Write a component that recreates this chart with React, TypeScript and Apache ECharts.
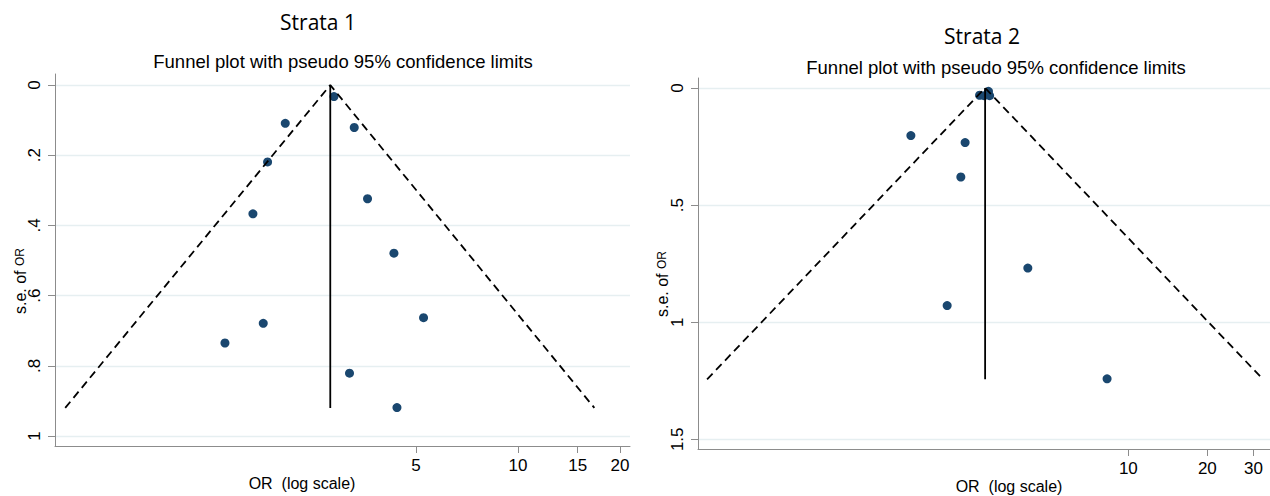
import React, { useEffect, useRef } from "react";
import * as echarts from "echarts";

// Strata 1 study estimates
const strata1OR = [2.866, 2.059, 3.289, 1.826, 3.6, 1.653, 4.307, 5.266, 1.773, 1.367, 3.185, 4.396];
const strata1SE = [0.033, 0.109, 0.121, 0.219, 0.324, 0.367, 0.479, 0.663, 0.679, 0.735, 0.821, 0.919];
// Strata 2 study estimates
const strata2OR = [2.71, 2.82, 2.93, 2.96, 1.483, 2.387, 2.299, 4.139, 2.039, 8.297];
const strata2SE = [0.031, 0.033, 0.014, 0.033, 0.203, 0.233, 0.38, 0.769, 0.929, 1.242];

// pseudo 95% confidence limits: [lower end, apex, upper end]
const funnel1OR = [0.462, 2.795, 16.8];
const funnel1SE = [0.92, 0, 0.92];
const funnel2OR = [0.248, 2.845, 32.6];
const funnel2SE = [1.244, 0, 1.244];

// tick labels
const x1Ticks = [5, 10, 15, 20];
const x2Ticks = [10, 20, 30];
const y1Ticks = [0, 0.2, 0.4, 0.6, 0.8, 1];
const y1Labels = ["0", ".2", ".4", ".6", ".8", "1"];
const y2Ticks = [0, 0.5, 1, 1.5];
const y2Labels = ["0", ".5", "1", "1.5"];

const FONT = "'Liberation Sans', Arial, sans-serif";
const TITLE_FONT = "'Open Sans', 'Noto Sans', sans-serif";
const NAVY = "#1a476f";
const AXIS_GRAY = "#8c8c8c";
const GRID_COLOR = "#e6eff1";

const zip = (a: number[], b: number[]) => a.map((v, i) => [v, b[i]]);

function yAxisCfg(gridIndex: number, min: number, max: number, ticks: number[], labels: string[]) {
  return {
    type: "value",
    gridIndex,
    inverse: true,
    min,
    max,
    axisLine: { show: true, onZero: false, lineStyle: { color: AXIS_GRAY, width: 1 } },
    axisTick: { show: true, length: 7, customValues: ticks, lineStyle: { color: AXIS_GRAY } },
    axisLabel: {
      customValues: ticks,
      rotate: 90,
      margin: 12,
      fontSize: 17,
      fontFamily: FONT,
      color: "#000",
      formatter: (v: number) => {
        const i = ticks.findIndex((t) => Math.abs(t - v) < 1e-9);
        return i >= 0 ? labels[i] : "";
      },
    },
    splitLine: { show: true, lineStyle: { color: GRID_COLOR, width: 1.4 } },
  };
}

function xAxisCfg(gridIndex: number, min: number, max: number, ticks: number[]) {
  return {
    type: "log",
    logBase: 10,
    gridIndex,
    min,
    max,
    axisLine: { show: true, onZero: false, lineStyle: { color: AXIS_GRAY, width: 1 } },
    axisTick: { show: true, length: 7, customValues: ticks, lineStyle: { color: AXIS_GRAY } },
    axisLabel: {
      customValues: ticks,
      margin: 11,
      fontSize: 17,
      fontFamily: FONT,
      color: "#000",
      formatter: (v: number) => String(Math.round(v)),
    },
    splitLine: { show: false },
    minorSplitLine: { show: false },
    splitArea: { show: false },
  };
}

export default function App() {
  const ref = useRef<HTMLDivElement>(null);
  useEffect(() => {
    if (!ref.current) return;
    const chart = echarts.init(ref.current, null, { renderer: "svg" });
    const dashed = { color: "#000", width: 1.8, type: [8, 5] as any };
    const solid = { color: "#000", width: 1.8 };
    const txt = (x: number, y: number, text: string, size: number, family: string) => ({
      type: "text",
      x,
      y,
      style: {
        text,
        fill: "#000",
        font: `normal ${size}px ${family}`,
        textAlign: "center",
        textVerticalAlign: "middle",
        align: "center",
        verticalAlign: "middle",
      },
    });
    const yName = (x: number, y: number) => ({
      type: "text",
      x,
      y,
      rotation: Math.PI / 2,
      style: {
        text: "{a|s.e. of }{b|OR}",
        fill: "#000",
        align: "center",
        verticalAlign: "middle",
        textAlign: "center",
        textVerticalAlign: "middle",
        rich: {
          a: { fontSize: 16, fontFamily: FONT, fill: "#000" },
          b: { fontSize: 12, fontFamily: FONT, fill: "#000" },
        },
      },
    });
    chart.setOption({
      animation: false,
      grid: [
        { left: 55, top: 74, width: 575, height: 372, show: false },
        { left: 698, top: 78, width: 572, height: 371, show: false },
      ],
      xAxis: [xAxisCfg(0, 0.431, 21.4, x1Ticks), xAxisCfg(1, 0.229, 34.66, x2Ticks)],
      yAxis: [
        yAxisCfg(0, -0.0314, 1.0285, y1Ticks, y1Labels),
        yAxisCfg(1, -0.0427, 1.5415, y2Ticks, y2Labels),
      ],
      series: [
        {
          type: "line",
          xAxisIndex: 0,
          yAxisIndex: 0,
          data: zip(funnel1OR, funnel1SE),
          symbol: "none",
          lineStyle: dashed,
        },
        {
          type: "line",
          xAxisIndex: 0,
          yAxisIndex: 0,
          data: [
            [funnel1OR[1], 0],
            [funnel1OR[1], funnel1SE[0]],
          ],
          symbol: "none",
          lineStyle: solid,
        },
        {
          type: "scatter",
          xAxisIndex: 0,
          yAxisIndex: 0,
          data: zip(strata1OR, strata1SE),
          symbolSize: 9,
          itemStyle: { color: NAVY, opacity: 1 },
        },
        {
          type: "line",
          xAxisIndex: 1,
          yAxisIndex: 1,
          data: zip(funnel2OR, funnel2SE),
          symbol: "none",
          lineStyle: dashed,
        },
        {
          type: "line",
          xAxisIndex: 1,
          yAxisIndex: 1,
          data: [
            [funnel2OR[1], 0],
            [funnel2OR[1], funnel2SE[0]],
          ],
          symbol: "none",
          lineStyle: solid,
        },
        {
          type: "scatter",
          xAxisIndex: 1,
          yAxisIndex: 1,
          data: zip(strata2OR, strata2SE),
          symbolSize: 9,
          itemStyle: { color: NAVY, opacity: 1 },
        },
      ],
      graphic: [
        txt(318, 22, "Strata 1", 21, TITLE_FONT),
        txt(343, 61, "Funnel plot with pseudo 95% confidence limits", 18.5, FONT),
        txt(982, 36, "Strata 2", 21, TITLE_FONT),
        txt(996, 67, "Funnel plot with pseudo 95% confidence limits", 18.5, FONT),
        txt(302, 483, "OR  (log scale)", 16, FONT),
        txt(1009, 486, "OR  (log scale)", 16, FONT),
        yName(20, 281),
        yName(662, 284),
      ],
    });
    return () => chart.dispose();
  }, []);
  return (
    <div
      ref={ref}
      style={{ position: "fixed", left: 0, top: 0, width: 1270, height: 496, background: "#fff" }}
    />
  );
}
